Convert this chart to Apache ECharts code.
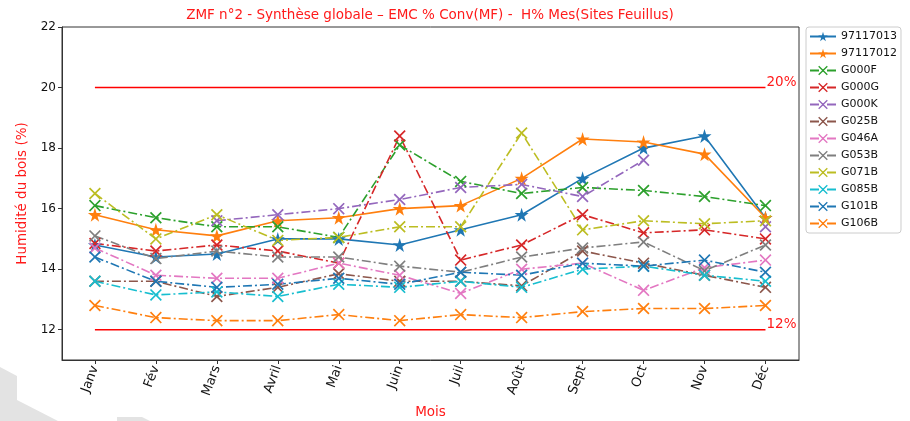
<!DOCTYPE html>
<html><head><meta charset="utf-8">
<script src="https://cdn.jsdelivr.net/npm/echarts@6/dist/echarts.min.js"></script>
<style>html,body{margin:0;padding:0;background:#fff}#c{width:910px;height:421px}</style>
</head><body><div id="c"></div>
<script>
// ---- data ----
const months = ['Janv','Fév','Mars','Avril','Mai','Juin','Juil','Août','Sept','Oct','Nov','Déc'];
const yTicks = [12,14,16,18,20,22];
const seriesNames = ['97117013','97117012','G000F','G000G','G000K','G025B','G046A','G053B','G071B','G085B','G101B','G106B'];
const s97117013 = [14.8,14.4,14.5,15.0,15.0,14.8,15.3,15.8,17.0,18.0,18.4,15.7];
const s97117012 = [15.8,15.3,15.1,15.6,15.7,16.0,16.1,17.0,18.3,18.2,17.8,15.7];
const sG000F = [16.1,15.7,15.4,15.4,15.05,18.1,16.9,16.5,16.7,16.6,16.4,16.1];
const sG000G = [14.85,14.6,14.8,14.6,14.2,18.4,14.3,14.8,15.8,15.2,15.3,15.0];
const sG000K = [null,null,15.6,15.8,16.0,16.3,16.7,16.8,16.4,17.6,null,15.4];
const sG025B = [13.6,13.6,13.1,13.4,13.85,13.6,13.6,13.45,14.6,14.2,13.8,13.4];
const sG046A = [14.7,13.8,13.7,13.7,14.2,13.8,13.2,14.0,14.2,13.3,14.05,14.3];
const sG053B = [15.1,14.35,14.6,14.4,14.4,14.1,13.9,14.4,14.7,14.9,13.95,14.8];
const sG071B = [16.5,15.0,15.8,14.95,15.05,15.4,15.4,18.5,15.3,15.6,15.5,15.6];
const sG085B = [13.6,13.15,13.25,13.1,13.5,13.4,13.6,13.4,14.0,14.1,13.8,13.6];
const sG101B = [14.4,13.6,13.4,13.5,13.7,13.5,13.9,13.8,14.2,14.1,14.3,13.9];
const sG106B = [12.8,12.4,12.3,12.3,12.5,12.3,12.5,12.4,12.6,12.7,12.7,12.8];
const refHigh = 20, refLow = 12;
const refHighLabel = '20%', refLowLabel = '12%';

const allValues = [s97117013,s97117012,sG000F,sG000G,sG000K,sG025B,sG046A,sG053B,sG071B,sG085B,sG101B,sG106B];

// ---- styles ----
const colors = ['#1f77b4','#ff7f0e','#2ca02c','#d62728','#9467bd','#8c564b','#e377c2','#7f7f7f','#bcbd22','#17becf','#1f77b4','#ff7f0e'];
const STAR = 'path://M50,0L61,35L98,35L68,57L79,91L50,70L21,91L32,57L2,35L39,35Z';
const XMARK = 'path://M0,1L1,0L5,4L9,0L10,1L6,5L10,9L9,10L5,6L1,10L0,9L4,5Z';
const dashDot = [9,3,2,3];
const monthIdx = months.map((m,i)=>i);

const series = allValues.map((vals, k) => {
  const star = k < 2;
  return {
    name: seriesNames[k],
    type: 'line',
    data: vals.map((v,i)=>[i, v == null ? '-' : v]),
    symbol: star ? STAR : XMARK,
    symbolSize: star ? 14 : 12,
    showSymbol: true,
    connectNulls: false,
    color: colors[k],
    lineStyle: {color: colors[k], width: 1.6, type: star ? 'solid' : dashDot},
    itemStyle: {color: colors[k]},
    emphasis: {disabled: true},
    animation: false
  };
});

function refSeries(v, label) {
  return {
    name: 'ref' + v,
    type: 'line',
    data: [[0, v], [months.length - 1, v]],
    symbol: 'none',
    lineStyle: {color: '#ff0000', width: 1.5, type: 'solid'},
    itemStyle: {color: '#ff0000'},
    endLabel: {show: true, formatter: label, color: '#ff1a1a', fontSize: 13.5,
      fontFamily: 'DejaVu Sans', distance: 1, offset: [0, -5]},
    emphasis: {disabled: true},
    animation: false,
    z: 1
  };
}

const grey = '#e3e3e3';
const chart = echarts.init(document.getElementById('c'), null, {renderer: 'canvas'});
chart.setOption({
  animation: false,
  textStyle: {fontFamily: 'DejaVu Sans'},
  graphic: [
    {type: 'polygon', z: -10, shape: {points: [[0,367],[17,376],[17,400],[58,421],[0,421]]}, style: {fill: grey}},
    {type: 'polygon', z: -10, shape: {points: [[117,417],[142,417],[150,421],[117,421]]}, style: {fill: grey}},
    {
    type: 'text', x: 430, y: 8,
    style: {text: 'ZMF n°2 - Synthèse globale – EMC % Conv(MF) -  H% Mes(Sites Feuillus)',
      fill: '#ff1a1a', font: '13.5px "DejaVu Sans"', textAlign: 'center'}
  }],
  grid: {left: 62, right: 111, top: 27, bottom: 61, show: true, borderColor: '#333', borderWidth: 1,
    containLabel: false, outerBoundsMode: 'none'},
  legend: {
    data: seriesNames,
    orient: 'vertical', left: 806, top: 27,
    itemGap: 6, itemWidth: 26, itemHeight: 12,
    padding: [4, 4, 4, 3],
    borderColor: '#ccc', borderWidth: 1, borderRadius: 3,
    textStyle: {fontSize: 11, color: '#111', fontFamily: 'DejaVu Sans'}
  },
  xAxis: {
    type: 'value', min: -0.54, max: 11.55,
    axisLine: {show: true, onZero: false, lineStyle: {color: '#333'}},
    axisTick: {show: true, length: 4, customValues: monthIdx, lineStyle: {color: '#333'}},
    axisLabel: {customValues: monthIdx, formatter: v => months[v], rotate: 70,
      fontSize: 13, color: '#111', margin: 6},
    splitLine: {show: false},
    name: 'Mois', nameLocation: 'middle', nameGap: 45,
    nameTextStyle: {color: '#ff1a1a', fontSize: 13.5}
  },
  yAxis: {
    type: 'value', min: 11, max: 22,
    axisLine: {show: true, onZero: false, lineStyle: {color: '#333'}},
    axisTick: {show: true, length: 4, customValues: yTicks, lineStyle: {color: '#333'}},
    axisLabel: {customValues: yTicks, fontSize: 12, color: '#111', margin: 6},
    splitLine: {show: false},
    name: 'Humidité du bois (%)', nameLocation: 'middle', nameGap: 23,
    nameTextStyle: {color: '#ff1a1a', fontSize: 13.5}
  },
  series: [refSeries(refHigh, refHighLabel), refSeries(refLow, refLowLabel)].concat(series)
});
</script>
</body></html>
